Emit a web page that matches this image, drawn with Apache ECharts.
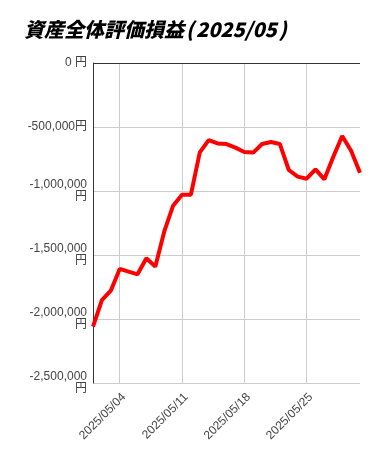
<!DOCTYPE html>
<html>
<head>
<meta charset="utf-8">
<script src="https://cdn.jsdelivr.net/npm/echarts@6/dist/echarts.min.js"></script>
<style>
html,body{margin:0;padding:0;background:#fff;}
#chart{width:379px;height:457px;}
</style>
</head>
<body>
<div id="chart"></div>
<script>
const titleMain = '資産全体評価損益';
const titlePeriod = '2025/05';
const dates = [
  '2025/05/01','2025/05/02','2025/05/03','2025/05/04','2025/05/05','2025/05/06','2025/05/07',
  '2025/05/08','2025/05/09','2025/05/10','2025/05/11','2025/05/12','2025/05/13','2025/05/14',
  '2025/05/15','2025/05/16','2025/05/17','2025/05/18','2025/05/19','2025/05/20','2025/05/21',
  '2025/05/22','2025/05/23','2025/05/24','2025/05/25','2025/05/26','2025/05/27','2025/05/28',
  '2025/05/29','2025/05/30','2025/05/31'
];
const profitLoss = [
  -2060000, -1852000, -1779000, -1609000, -1630000, -1651000, -1526000,
  -1591000, -1318000, -1115000, -1029000, -1029000, -698000, -602000,
  -628000, -633000, -661000, -695000, -700000, -633000, -617000,
  -633000, -836000, -888000, -904000, -831000, -909000, -732000,
  -570000, -685000, -857000
];
const yTicks = { min: -2500000, max: 0, interval: 500000 };

const labelIdx = (i) => (i - 3) % 7 === 0;

const titleFont = '"Noto Sans CJK JP", "Liberation Sans", sans-serif';
const chart = echarts.init(document.getElementById('chart'), null, { renderer: 'canvas' });
chart.setOption({
  backgroundColor: '#fff',
  animation: false,
  title: {
    text: titleMain + '{p|(}' + titlePeriod + '{p|)}',
    left: 19,
    top: 14,
    textStyle: {
      fontFamily: titleFont,
      fontSize: 20,
      fontWeight: 900,
      fontStyle: 'italic',
      color: '#000',
      rich: {
        p: {
          fontFamily: titleFont,
          fontSize: 20,
          fontWeight: 900,
          fontStyle: 'italic',
          color: '#000',
          padding: [0, 2, 0, 2]
        }
      }
    }
  },
  grid: { left: 93, right: 19, top: 63, bottom: 74, containLabel: false },
  xAxis: {
    type: 'category',
    boundaryGap: false,
    data: dates,
    axisLine: { show: false },
    axisTick: { show: false },
    axisLabel: {
      interval: labelIdx,
      rotate: 45,
      margin: 8,
      verticalAlign: 'top',
      fontFamily: '"Liberation Sans", Arial, sans-serif',
      fontSize: 12,
      color: '#444'
    },
    splitLine: { show: true, interval: labelIdx, lineStyle: { color: '#ccc', width: 1 } }
  },
  yAxis: {
    type: 'value',
    min: yTicks.min,
    max: yTicks.max,
    interval: yTicks.interval,
    axisLine: { show: true, lineStyle: { color: '#333', width: 1 } },
    axisTick: { show: false },
    axisLabel: {
      margin: 6,
      fontFamily: '"Liberation Sans", "Noto Sans CJK JP", sans-serif',
      fontSize: 12,
      lineHeight: 12,
      color: '#444',
      formatter: function (v) {
        if (v === 0) return '0 円';
        const s = v.toLocaleString('en-US');
        return s.length > 8 ? s + '\n円' : s + '円';
      }
    },
    splitLine: { show: true, lineStyle: { color: '#ccc', width: 1 } }
  },
  series: [{
    type: 'line',
    data: profitLoss,
    symbol: 'none',
    lineStyle: { color: '#ff0000', width: 4 },
    itemStyle: { color: '#ff0000' },
    markLine: {
      silent: true,
      symbol: 'none',
      label: { show: false },
      lineStyle: { color: '#333', width: 1, type: 'solid' },
      data: [{ yAxis: 0 }]
    },
    z: 3
  }]
});
</script>
</body>
</html>
